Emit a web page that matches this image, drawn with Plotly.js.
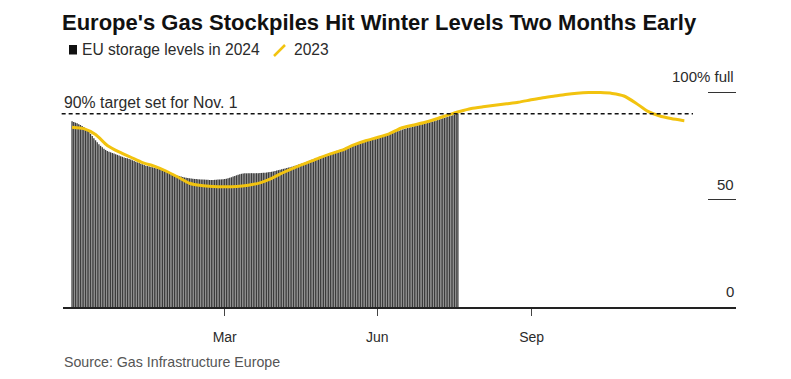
<!DOCTYPE html>
<html>
<head>
<meta charset="utf-8">
<script src="https://cdn.plot.ly/plotly-3.0.1.min.js"></script>
<style>
  html, body { margin: 0; padding: 0; background: #ffffff; }
  #chart { width: 791px; height: 379px; }
</style>
</head>
<body>
<div id="chart"></div>
<script>
// ---- Data (day-of-year index, 0 = Jan 1) ----
// EU storage levels in 2024, daily, % full (Jan 1 .. Aug 18)
const storage2024 = [
  86.4, 86.1, 85.8, 85.5, 85.1, 84.7, 84.2, 83.8, 83.2, 82.5,
  81.6, 80.6, 79.6, 78.6, 77.6, 76.7, 75.8, 75.0, 74.3, 73.7,
  73.1, 72.6, 72.3, 72.0, 71.7, 71.4, 71.1, 70.8, 70.5, 70.2,
  69.9, 69.6, 69.4, 69.2, 68.9, 68.6, 68.3, 67.9, 67.6, 67.3,
  67.0, 66.7, 66.4, 66.1, 65.8, 65.6, 65.4, 65.2, 65.0, 64.8,
  64.6, 64.4, 64.2, 64.0, 63.8, 63.6, 63.3, 63.0, 62.6, 62.3,
  62.0, 61.7, 61.4, 61.1, 60.9, 60.7, 60.5, 60.3, 60.1, 60.0,
  59.9, 59.8, 59.7, 59.6, 59.6, 59.5, 59.4, 59.4, 59.3, 59.3,
  59.2, 59.2, 59.1, 59.1, 59.1, 59.2, 59.2, 59.3, 59.3, 59.4,
  59.5, 59.6, 59.7, 59.9, 60.1, 60.4, 60.7, 61.0, 61.3, 61.6,
  61.8, 62.0, 62.1, 62.2, 62.2, 62.3, 62.3, 62.3, 62.3, 62.3,
  62.3, 62.3, 62.4, 62.4, 62.5, 62.5, 62.6, 62.7, 62.8, 62.9,
  63.1, 63.3, 63.5, 63.7, 63.9, 64.1, 64.3, 64.5, 64.7, 64.9,
  65.1, 65.3, 65.5, 65.8, 66.0, 66.3, 66.5, 66.8, 67.0, 67.3,
  67.6, 67.9, 68.2, 68.5, 68.8, 69.1, 69.4, 69.7, 70.0, 70.3,
  70.5, 70.8, 71.0, 71.3, 71.6, 71.8, 72.1, 72.4, 72.7, 72.9,
  73.2, 73.5, 73.8, 74.1, 74.3, 74.6, 74.9, 75.1, 75.4, 75.7,
  75.9, 76.1, 76.4, 76.6, 76.9, 77.1, 77.3, 77.6, 77.8, 78.1,
  78.3, 78.5, 78.7, 79.0, 79.2, 79.4, 79.7, 79.9, 80.2, 80.5,
  80.7, 81.0, 81.2, 81.5, 81.8, 82.0, 82.3, 82.6, 82.9, 83.1,
  83.3, 83.5, 83.7, 83.9, 84.1, 84.3, 84.5, 84.7, 84.9, 85.1,
  85.3, 85.5, 85.7, 85.9, 86.1, 86.3, 86.5, 86.8, 87.0, 87.3,
  87.5, 87.8, 88.0, 88.3, 88.5, 88.8, 89.0, 89.3, 89.5, 89.8,
  90.1
];
const days2024 = storage2024.map((_, i) => i);

// 2023 storage levels, weekly readings, % full
const days2023 = [0, 7, 14, 21, 28, 35, 42, 49, 56, 63, 70, 77, 84, 91, 98, 105, 112, 119,
  126, 133, 140, 147, 154, 161, 168, 175, 182, 189, 196, 203, 210, 217, 224, 231, 238,
  245, 252, 259, 266, 273, 280, 287, 294, 301, 308, 315, 322, 329, 336, 343, 350, 357, 364, 365];
const storage2023 = [83.7, 83.0, 80.3, 75.2, 72.2, 69.7, 67.2, 65.6, 63.3, 60.5, 57.6, 56.5,
  56.1, 56.0, 56.1, 56.7, 57.8, 59.9, 62.6, 65.0, 67.1, 69.3, 71.3, 73.0, 75.5, 77.4, 78.9,
  80.6, 83.2, 84.6, 85.9, 87.5, 89.3, 91.0, 92.4, 93.2, 93.9, 94.6, 95.3, 96.3, 97.3, 98.1,
  98.9, 99.5, 99.8, 99.8, 99.4, 98.2, 95.0, 91.2, 89.0, 87.7, 86.8, 86.7];

// Axis ticks
const xTickVals = [91, 182, 274];
const xTickText = ['Mar', 'Jun', 'Sep'];
const yTickVals = [0, 50, 100];
const yTickText = ['0', '50', '100% full'];

const targetLevel = 90;
const targetLabel = '90% target set for Nov. 1';
const titleText = "Europe's Gas Stockpiles Hit Winter Levels Two Months Early";
const legendBarText = 'EU storage levels in 2024';
const legendLineText = '2023';
const sourceText = 'Source: Gas Infrastructure Europe';

// ---- Styles ----
const FONT = 'Liberation Sans, Arial, sans-serif';
const BAR_COLOR = '#3c3c3c';
const LINE_COLOR = '#f2c30f';
const TEXT_COLOR = '#2b2b2b';

// plot area helpers (pixel -> paper)
const PL = 63, PW = 673, PB = 307, PH = 217;
const px = v => (v - PL) / PW;
const py = v => (PB - v) / PH;

const traces = [
  {
    type: 'bar',
    x: days2024,
    y: storage2024,
    marker: { color: BAR_COLOR, line: { width: 0 } },
    hoverinfo: 'skip',
    showlegend: false
  },
  {
    type: 'scatter',
    mode: 'lines',
    x: days2023,
    y: storage2023,
    line: { color: LINE_COLOR, width: 3, shape: 'spline', smoothing: 0.6 },
    cliponaxis: false,
    hoverinfo: 'skip',
    showlegend: false
  }
];

const annotations = yTickVals.map((v, i) => ({
  xref: 'paper', yref: 'y', x: 1, y: v,
  xanchor: 'right', yanchor: 'middle', yshift: 15.5,
  text: yTickText[i], showarrow: false,
  font: { family: FONT, size: 15, color: TEXT_COLOR }
}));

annotations.push(
  {
    xref: 'paper', yref: 'y', x: 0, y: targetLevel,
    xanchor: 'left', yanchor: 'middle', yshift: 11, xshift: -1,
    text: targetLabel, showarrow: false,
    font: { family: FONT, size: 15.8, color: TEXT_COLOR }
  },
  {
    xref: 'paper', yref: 'paper', x: px(80), y: py(49.5),
    xanchor: 'left', yanchor: 'middle',
    text: legendBarText, showarrow: false,
    font: { family: FONT, size: 15.6, color: TEXT_COLOR }
  },
  {
    xref: 'paper', yref: 'paper', x: px(291.5), y: py(49.5),
    xanchor: 'left', yanchor: 'middle',
    text: legendLineText, showarrow: false,
    font: { family: FONT, size: 15.6, color: TEXT_COLOR }
  },
  {
    xref: 'paper', yref: 'paper', x: 0, y: py(362),
    xanchor: 'left', yanchor: 'middle', xshift: -1.5,
    text: sourceText, showarrow: false,
    font: { family: FONT, size: 14.2, color: '#555555' }
  }
);

const shapes = [
  {
    type: 'line', xref: 'paper', yref: 'y',
    x0: -0.002, x1: px(693), y0: targetLevel, y1: targetLevel,
    line: { color: '#111111', width: 1.5, dash: '4px,3px' }
  },
  {
    type: 'rect', xref: 'paper', yref: 'paper',
    x0: px(69), x1: px(77), y0: py(54.5), y1: py(45),
    fillcolor: '#111111', line: { width: 0 }
  },
  {
    type: 'line', xref: 'paper', yref: 'paper',
    x0: px(274), x1: px(285), y0: py(56), y1: py(45),
    line: { color: LINE_COLOR, width: 2.5 }
  }
];

const layout = {
  width: 791,
  height: 379,
  margin: { l: PL, r: 791 - PL - PW, t: 379 - 72 - PH, b: 72, pad: 0 },
  paper_bgcolor: '#ffffff',
  plot_bgcolor: '#ffffff',
  showlegend: false,
  bargap: 0.2,
  title: {
    text: '<b>' + titleText + '</b>',
    xref: 'container', yref: 'container',
    x: 62 / 791, xanchor: 'left',
    y: 1 - 22 / 379, yanchor: 'middle',
    font: { family: FONT, size: 22, color: '#111111' }
  },
  xaxis: {
    range: [-5.4, 395.8],
    tickmode: 'array',
    tickvals: xTickVals,
    ticktext: xTickText,
    ticks: 'outside', ticklen: 7, tickwidth: 1, tickcolor: '#444444',
    ticklabelstandoff: 10,
    showline: true, linecolor: '#222222', linewidth: 1.5,
    showgrid: false, zeroline: false,
    tickfont: { family: FONT, size: 14, color: TEXT_COLOR },
    fixedrange: true
  },
  yaxis: {
    range: [0, 101],
    side: 'right',
    tickmode: 'array',
    tickvals: yTickVals,
    ticks: 'inside', ticklen: 28, tickwidth: 1.2, tickcolor: '#333333',
    showticklabels: false,
    showline: false, showgrid: false, zeroline: false,
    fixedrange: true
  },
  annotations: annotations,
  shapes: shapes
};

Plotly.newPlot('chart', traces, layout, { displayModeBar: false, staticPlot: true });
</script>
</body>
</html>
